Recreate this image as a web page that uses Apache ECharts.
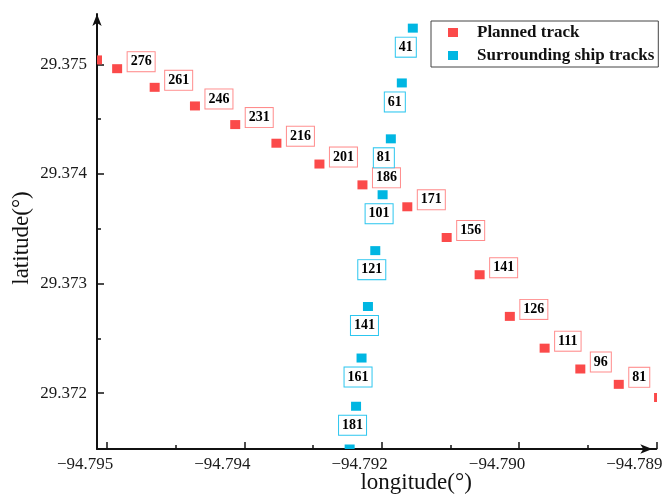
<!DOCTYPE html>
<html>
<head>
<meta charset="utf-8">
<script src="https://cdn.jsdelivr.net/npm/echarts@6/dist/echarts.min.js"></script>
<style>
html,body{margin:0;padding:0;background:#fff;}
#c{width:667px;height:498px;}
</style>
</head>
<body>
<div id="c"></div>
<script>
// ---- data ----
const plannedLon = [-94.79511, -94.79489, -94.79448, -94.79404, -94.79360, -94.79315, -94.79268, -94.79221,
                    -94.79172, -94.79129, -94.79093, -94.79060, -94.79022, -94.78983, -94.78941, -94.78897];
const plannedLat = [29.37504, 29.37496, 29.37479, 29.37462, 29.37445, 29.37428, 29.37409, 29.37390,
                    29.37370, 29.37342, 29.37308, 29.37270, 29.37241, 29.37222, 29.37208, 29.37196];
const plannedLabels = ['', '276', '261', '246', '231', '216', '201', '186',
                       '171', '156', '141', '126', '111', '96', '81', ''];

const shipLon = [-94.79166, -94.79178, -94.79190, -94.79199, -94.79207, -94.79215, -94.79222, -94.79228, -94.79235];
const shipLat = [29.37533, 29.37483, 29.37432, 29.37381, 29.37330, 29.37279, 29.37232, 29.37188, 29.37149];
const shipLabels = ['41', '61', '81', '101', '121', '141', '161', '181', ''];

const xTickValues = [-94.795, -94.7935, -94.792, -94.7905, -94.789];
const xTickLabels = ['\u221294.795', '\u221294.794', '\u221294.792', '\u221294.790', '\u221294.789'];
const xMinorTicks = [-94.79425, -94.79275, -94.79125, -94.78975];
const yTickValues = [29.372, 29.373, 29.374, 29.375];
const yTickLabels = ['29.372', '29.373', '29.374', '29.375'];
const yMinorTicks = [29.3725, 29.3735, 29.3745];

const seriesNames = ['Planned track', 'Surrounding ship tracks'];

// ---- style ----
const RED = '#fb4a4a';
const BLUE = '#00b6e2';
const RED_BORDER = '#ff8c8c';
const BLUE_BORDER = '#2cc6ef';
const SERIF = '"Liberation Serif", "Times New Roman", serif';
const X_MIN = -94.79511, X_MAX = -94.789;
const Y_MIN = 29.37149, Y_MAX = 29.375459;

function lookup(values, labels, v) {
  for (let i = 0; i < values.length; i++) {
    if (Math.abs(values[i] - v) < 1e-7) return labels[i];
  }
  return '';
}

function makeRender(color, labels, borderColor, mode) {
  return function (params, api) {
    const pt = api.coord([api.value(0), api.value(1)]);
    const children = [{
      type: 'rect',
      shape: { x: pt[0] - 5, y: pt[1] - 4.5, width: 10, height: 9 },
      style: { fill: color }
    }];
    const lab = labels[params.dataIndex];
    if (lab) {
      const lx = mode === 'right' ? pt[0] + 10.5 : pt[0] - 17;
      const ly = mode === 'right' ? pt[1] - 7 : pt[1] + 19;
      children.push({
        type: 'text',
        x: lx, y: ly,
        style: {
          text: lab,
          fill: '#000',
          font: 'bold 14px ' + SERIF,
          lineHeight: 15,
          align: 'left',
          verticalAlign: 'middle',
          backgroundColor: '#fff',
          borderColor: borderColor,
          borderWidth: 1,
          padding: [2, 3, 2, 3]
        }
      });
    }
    return { type: 'group', children: children };
  };
}

const chart = echarts.init(document.getElementById('c'), null, { renderer: 'canvas' });

const axisLineStyle = { color: '#111', width: 2 };

const option = {
  backgroundColor: '#fff',
  animation: false,
  grid: { left: 97, right: 10.7, top: 14, bottom: 49, containLabel: false, outerBoundsMode: 'none' },
  legend: {
    orient: 'vertical',
    left: 431,
    top: 21,
    padding: [3, 4, 3, 17],
    itemGap: 6,
    itemWidth: 10,
    itemHeight: 9,
    selectedMode: false,
    backgroundColor: '#fff',
    borderColor: '#444',
    borderWidth: 1,
    textStyle: { fontFamily: SERIF, fontWeight: 'bold', fontSize: 17, color: '#111', lineHeight: 16, padding: [0, 0, 0, 14] },
    data: [
      { name: seriesNames[0], icon: 'rect', itemStyle: { color: RED } },
      { name: seriesNames[1], icon: 'rect', itemStyle: { color: BLUE } }
    ]
  },
  xAxis: [{
    type: 'value',
    position: 'bottom',
    min: X_MIN, max: X_MAX,
    name: 'longitude(°)',
    nameLocation: 'middle',
    nameGap: 22,
    nameMoveOverlap: false,
    nameTextStyle: { fontFamily: SERIF, fontSize: 23, color: '#111', padding: [0, 0, 0, 79] },
    axisLine: { show: true, lineStyle: axisLineStyle, symbol: ['none', 'arrow'], symbolSize: [7, 12], symbolOffset: [0, -4] },
    axisTick: { show: true, inside: true, length: 7, lineStyle: { color: '#111', width: 1.5 }, customValues: xTickValues },
    axisLabel: {
      show: true, margin: 7, fontFamily: SERIF, fontSize: 17, color: '#1a1a1a',
      customValues: xTickValues,
      padding: [0, 44, 0, 0],
      formatter: function (v) { return lookup(xTickValues, xTickLabels, v); }
    },
    splitLine: { show: false }
  }, {
    type: 'value',
    position: 'bottom',
    min: X_MIN, max: X_MAX,
    axisLine: { show: false },
    axisTick: { show: true, inside: true, length: 4, lineStyle: { color: '#111', width: 1.5 }, customValues: xMinorTicks },
    axisLabel: { show: false },
    splitLine: { show: false }
  }],
  yAxis: [{
    type: 'value',
    position: 'left',
    min: Y_MIN, max: Y_MAX,
    name: 'latitude(°)',
    nameLocation: 'middle',
    nameGap: 64,
    nameMoveOverlap: false,
    nameTextStyle: { fontFamily: SERIF, fontSize: 23, color: '#111', padding: [0, 13, 0, 0] },
    axisLine: { show: true, lineStyle: axisLineStyle, symbol: ['none', 'arrow'], symbolSize: [7, 12], symbolOffset: [0, 0] },
    axisTick: { show: true, inside: true, length: 7, lineStyle: { color: '#111', width: 1.5 }, customValues: yTickValues },
    axisLabel: {
      show: true, margin: 10, fontFamily: SERIF, fontSize: 17, color: '#1a1a1a',
      customValues: yTickValues,
      formatter: function (v) { return lookup(yTickValues, yTickLabels, v); }
    },
    splitLine: { show: false }
  }, {
    type: 'value',
    position: 'left',
    min: Y_MIN, max: Y_MAX,
    axisLine: { show: false },
    axisTick: { show: true, inside: true, length: 4, lineStyle: { color: '#111', width: 1.5 }, customValues: yMinorTicks },
    axisLabel: { show: false },
    splitLine: { show: false }
  }],
  series: [{
    name: seriesNames[0],
    type: 'custom',
    xAxisIndex: 0, yAxisIndex: 0,
    clip: true,
    itemStyle: { color: RED },
    renderItem: makeRender(RED, plannedLabels, RED_BORDER, 'right'),
    data: plannedLon.map(function (x, i) { return [x, plannedLat[i]]; }),
    z: 3
  }, {
    name: seriesNames[1],
    type: 'custom',
    xAxisIndex: 0, yAxisIndex: 0,
    clip: true,
    itemStyle: { color: BLUE },
    renderItem: makeRender(BLUE, shipLabels, BLUE_BORDER, 'below'),
    data: shipLon.map(function (x, i) { return [x, shipLat[i]]; }),
    z: 3
  }]
};

chart.setOption(option);
</script>
</body>
</html>
